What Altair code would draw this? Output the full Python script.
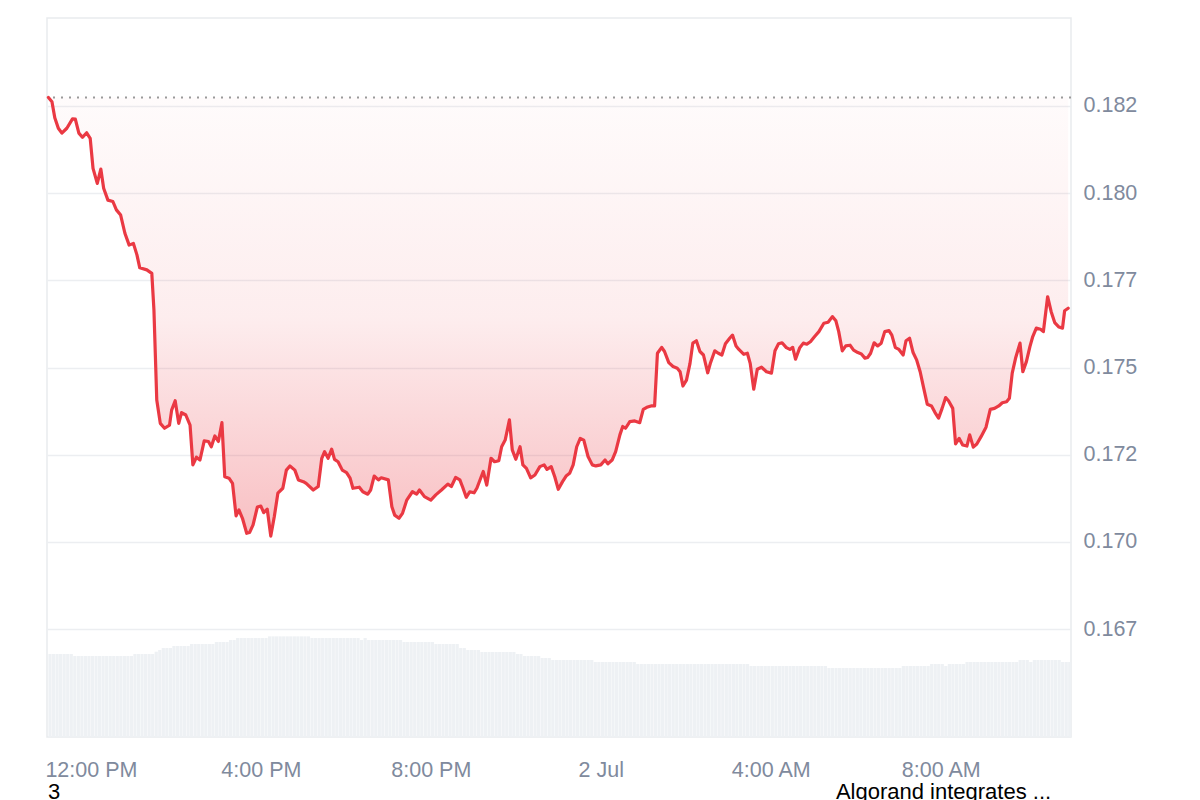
import altair as alt
import pandas as pd

# ---- price series (minutes after 11:00 AM, 1 Jul) ----
minutes = [
    0, 5, 9, 14, 19, 26, 34, 38, 43, 48, 54, 59, 63, 69, 74, 78, 84, 91, 96, 102, 108, 114, 120, 125, 129, 139, 146,
    149, 153, 158, 164, 171, 174, 179, 184, 188, 194, 200, 204, 209, 214, 220, 226, 230, 235, 240, 245, 249, 255,
    260, 265, 269, 274, 280, 284, 289, 295, 300, 304, 309, 314, 319, 324, 331, 336, 341, 348, 353, 360, 364, 374, 381,
    386, 390, 395, 400, 404, 409, 415, 421, 426, 430, 439, 444, 451, 455, 460, 466, 470, 480, 485, 489, 495, 500,
    506, 514, 520, 524, 531, 540, 547, 555, 564, 569, 575, 581, 585, 590, 595, 601, 605, 614, 619, 625, 630, 636,
    640, 645, 651, 655, 660, 666, 670, 675, 681, 687, 694,
    700, 704, 710, 715, 720, 726, 731, 736, 741, 746, 751, 756, 762, 768, 773, 780, 786, 790, 796, 801, 807, 811,
    815, 821, 828, 835, 840, 845, 851, 856, 860, 866, 870, 876, 882, 888, 892, 896, 901, 906, 910, 915, 920, 925,
    931, 935, 941, 946, 951, 956, 962, 966, 971, 975, 982, 987, 991, 996, 1001, 1007, 1014, 1021,
    1026, 1031, 1036, 1042, 1047, 1051, 1055, 1061, 1066, 1071, 1076, 1082, 1088, 1095, 1101, 1107, 1112, 1116,
    1121, 1126, 1132, 1137, 1143, 1148, 1153, 1157, 1161, 1166, 1171, 1176, 1181, 1187, 1191, 1196, 1201, 1207,
    1211, 1216, 1221, 1226, 1231, 1236, 1241, 1247, 1252, 1257, 1262, 1267, 1271, 1277, 1281, 1286, 1291, 1297,
    1301, 1306, 1311, 1317, 1324,
    1330, 1336, 1342, 1347, 1353, 1357, 1361, 1366, 1372, 1376, 1381, 1386, 1390, 1395, 1401, 1405, 1411, 1416,
    1421, 1427, 1432, 1435, 1440,
]
prices = [
    0.18274, 0.18262, 0.18216, 0.18186, 0.18172, 0.18186, 0.18213, 0.18212, 0.18172, 0.18160, 0.18173, 0.18157,
    0.18071, 0.18028, 0.18069, 0.18014, 0.17980, 0.17976, 0.17952, 0.17937, 0.17885, 0.17851, 0.17856, 0.17823,
    0.17786, 0.17780, 0.17770,
    0.17665, 0.17407, 0.17340, 0.17326, 0.17335, 0.17378, 0.17405, 0.17340, 0.17371, 0.17364, 0.17335, 0.17221,
    0.17243, 0.17235, 0.17290, 0.17288, 0.17273, 0.17304, 0.17288, 0.17342, 0.17187, 0.17183, 0.17168, 0.17075,
    0.17092, 0.17068, 0.17025, 0.17027, 0.17049, 0.17100, 0.17103, 0.17084, 0.17094, 0.17017, 0.17073, 0.17140,
    0.17154, 0.17206, 0.17218, 0.17206, 0.17178, 0.17173, 0.17168, 0.17149, 0.17159,
    0.17240, 0.17259, 0.17240, 0.17266, 0.17237, 0.17230, 0.17206, 0.17199, 0.17183, 0.17154, 0.17157, 0.17144,
    0.17137, 0.17149, 0.17189, 0.17178, 0.17184, 0.17178, 0.17101, 0.17077, 0.17068, 0.17082, 0.17120, 0.17144,
    0.17137, 0.17149, 0.17130, 0.17120, 0.17135, 0.17149, 0.17166, 0.17159, 0.17185, 0.17178, 0.17157, 0.17128,
    0.17144, 0.17141, 0.17154, 0.17202, 0.17163, 0.17240, 0.17230, 0.17233, 0.17273, 0.17292, 0.17350, 0.17264,
    0.17237, 0.17273, 0.17221, 0.17211, 0.17184, 0.17192, 0.17216,
    0.17221, 0.17208, 0.17216, 0.17187, 0.17151, 0.17173, 0.17189, 0.17197, 0.17221, 0.17273, 0.17297, 0.17292,
    0.17245, 0.17221, 0.17218, 0.17221, 0.17235, 0.17224, 0.17235, 0.17259, 0.17307, 0.17331, 0.17326, 0.17345,
    0.17347, 0.17342, 0.17380, 0.17386, 0.17390, 0.17390, 0.17541, 0.17558, 0.17546, 0.17514, 0.17503, 0.17498,
    0.17488, 0.17447, 0.17464, 0.17512, 0.17570, 0.17577, 0.17546, 0.17536, 0.17485, 0.17514, 0.17548, 0.17541,
    0.17536, 0.17568, 0.17584, 0.17593, 0.17562, 0.17552, 0.17538, 0.17541, 0.17512, 0.17438, 0.17495, 0.17501,
    0.17488, 0.17484,
    0.17548, 0.17568, 0.17571, 0.17557, 0.17552, 0.17558, 0.17524, 0.17557, 0.17570, 0.17567, 0.17574, 0.17589,
    0.17603, 0.17627, 0.17630, 0.17646, 0.17634, 0.17603, 0.17548, 0.17562, 0.17564, 0.17550, 0.17543, 0.17539,
    0.17527, 0.17529, 0.17541, 0.17571, 0.17562, 0.17570, 0.17603, 0.17606, 0.17593, 0.17557, 0.17552, 0.17536,
    0.17577, 0.17584, 0.17543, 0.17522, 0.17488, 0.17441, 0.17395, 0.17390, 0.17371, 0.17355, 0.17383, 0.17414,
    0.17405, 0.17383, 0.17281, 0.17297, 0.17278, 0.17275, 0.17307, 0.17272, 0.17281, 0.17302, 0.17329,
    0.17380, 0.17383, 0.17390, 0.17399, 0.17402, 0.17412, 0.17484, 0.17529, 0.17570, 0.17488, 0.17517, 0.17560,
    0.17589, 0.17613, 0.17610, 0.17603, 0.17703, 0.17660, 0.17629, 0.17616, 0.17613, 0.17663, 0.17670,
]

# ---- volume bars, one per 5 minutes from 11:00 AM ----
volumes = [
    92.4, 92.4, 92.4, 92.4, 92.4, 92.4, 92.4,
    90.1, 90.1, 90.1, 90.1, 90.1, 90.1, 90.1, 90.1, 90.1, 90.1, 90.1, 90.1, 90.1, 90.1, 90.1, 90.1, 90.1,
    92.4, 92.4, 92.4, 92.4, 92.4, 92.4, 94.9, 96.8, 99.0, 99.0, 99.0,
    101.3, 101.3, 101.3, 101.3, 101.3, 103.5, 103.5, 103.5, 103.5, 103.5, 103.5, 103.5,
    105.7, 105.7, 105.7, 105.7, 107.9, 107.9,
    110.2, 110.2, 110.2, 110.2, 110.2, 110.2, 110.2, 110.2, 110.2,
    112.0, 112.0, 112.0, 112.0, 112.0, 112.0, 112.0, 112.0, 112.0, 112.0, 112.0, 112.0,
    110.2, 110.2, 110.2, 110.2, 110.2, 110.2, 110.2, 110.2, 110.2, 110.2, 110.2, 110.2, 110.2, 110.2,
    107.9, 110.2,
    107.9, 107.9, 107.9, 107.9, 107.9, 107.9, 107.9, 107.9, 107.9, 107.9,
    105.7, 105.7, 105.7, 105.7, 105.7, 105.7, 105.7, 105.7, 105.7,
    103.5, 103.5, 103.5, 103.5, 103.5, 103.5, 103.5,
    99.0, 99.0, 96.8, 96.8, 96.8, 96.8,
    94.6, 94.6, 94.6, 94.6, 94.6, 94.6, 94.6, 94.6, 94.6, 94.6,
    92.4, 92.4, 90.1, 90.1, 90.1, 90.1, 90.1, 87.9, 87.9, 87.9,
    85.7, 85.7, 85.7, 85.7, 85.7, 85.7, 85.7, 85.7, 85.7, 85.7, 85.7, 85.7,
    83.5, 83.5, 83.5, 83.5, 83.5, 83.5, 83.5, 83.5, 83.5, 83.5, 83.5, 83.5,
    81.2, 81.2, 81.2, 81.2, 81.2, 81.2, 81.2, 81.2, 81.2, 81.2, 81.2, 81.2, 81.2, 81.2, 81.2, 81.2,
    81.2, 81.2, 81.2, 81.2, 81.2, 81.2, 81.2, 81.2, 81.2, 81.2, 81.2, 81.2, 81.2, 81.2, 81.2, 81.2,
    79.0, 79.0, 79.0, 79.0, 79.0, 79.0, 79.0, 79.0, 79.0, 79.0, 79.0,
    79.0, 79.0, 79.0, 79.0, 79.0, 79.0, 79.0, 79.0, 79.0, 79.0, 79.0,
    76.8, 76.8, 76.8, 76.8, 76.8, 76.8, 76.8, 76.8, 76.8, 76.8, 76.8,
    76.8, 76.8, 76.8, 76.8, 76.8, 76.8, 76.8, 76.8, 76.8, 76.8,
    79.0, 79.0, 79.0, 79.0, 79.0, 79.0, 79.0, 79.0,
    81.2, 81.2, 81.2, 81.2, 79.0, 81.2, 81.2, 81.2, 81.2, 81.2,
    83.5, 83.5, 83.5, 83.5, 83.5, 83.5, 83.5, 83.5, 83.5, 83.5, 83.5, 83.5, 83.5, 83.5, 83.5,
    85.7, 85.7, 85.7, 83.5,
    85.7, 85.7, 85.7, 85.7, 85.7, 85.7, 85.7, 85.7,
    83.5, 83.5, 83.5,
]

y_ticks = [0.1675, 0.17, 0.1725, 0.175, 0.1775, 0.18, 0.1825]
x_tick_hours = [(1, 12), (1, 16), (1, 20), (2, 0), (2, 4), (2, 8)]
event_labels = ["3", "Algorand integrates ..."]
event_minutes = [8, 1264]

start = pd.Timestamp("2024-07-01 11:00:00")
price_df = pd.DataFrame({
    "time": [start + pd.Timedelta(minutes=m) for m in minutes],
    "price": prices,
})
open_price = prices[0]
price_df["base"] = open_price

vol_df = pd.DataFrame({
    "time": [start + pd.Timedelta(minutes=5 * i) for i in range(len(volumes))],
    "volume": volumes,
})
vol_df["time_end"] = vol_df["time"] + pd.Timedelta(minutes=4.5)
vol_df["zero"] = 0.0

event_df = pd.DataFrame({
    "time": [start + pd.Timedelta(minutes=m) for m in event_minutes],
    "label": event_labels,
})

RED = "#ea3943"
LABEL = "#808a9d"
GRID = "#eceef1"

x_scale = alt.Scale(
    domain=[
        alt.DateTime(year=2024, month=7, date=1, hours=10, minutes=58),
        alt.DateTime(year=2024, month=7, date=2, hours=11, minutes=4),
    ],
    padding=0,
)
x_axis = alt.Axis(
    values=[alt.DateTime(year=2024, month=7, date=d, hours=h) for d, h in x_tick_hours],
    labelExpr="hours(datum.value) == 0 ? timeFormat(datum.value, '%-d %b') : timeFormat(datum.value, '%-I:%M %p')",
    title=None, grid=False, domain=False, ticks=False, tickSize=0, labelPadding=22,
    labelFontSize=21.5, labelColor=LABEL, labelFont="Liberation Sans", labelFlush=False,
)
x_enc = alt.X("time:T", scale=x_scale, axis=x_axis)

y_scale = alt.Scale(domain=[0.16441, 0.18502], zero=False, nice=False)
y_axis = alt.Axis(
    orient="right", values=y_ticks, title=None,
    labelExpr="format(floor(datum.value * 1000 + 0.000001) / 1000, '.3f')",
    domain=False, ticks=False, tickSize=0, labelPadding=12,
    labelFontSize=21.5, labelColor=LABEL, labelFont="Liberation Sans",
    grid=True, gridColor=GRID, gridWidth=1.5,
)

vol_layer = alt.Chart(vol_df).mark_bar(color="#eef1f4", clip=True, orient="vertical").encode(
    x=x_enc,
    x2="time_end:T",
    y=alt.Y("volume:Q", scale=alt.Scale(domain=[0, 800]), axis=None),
    y2="zero:Q",
)

area = alt.Chart(price_df).mark_area(
    interpolate="linear",
    color=alt.Gradient(
        gradient="linear",
        stops=[
            alt.GradientStop(color="rgba(234,57,67,0.02)", offset=0),
            alt.GradientStop(color="rgba(234,57,67,0.09)", offset=0.5),
            alt.GradientStop(color="rgba(234,57,67,0.32)", offset=1),
        ],
        x1=0, x2=0, y1=0, y2=1,
    ),
).encode(
    x=x_enc,
    y=alt.Y("price:Q", scale=y_scale, axis=y_axis),
    y2="base:Q",
)

rule = alt.Chart(price_df.head(1)).mark_rule(
    color="#9a9a9a", strokeDash=[2, 6], strokeWidth=2
).encode(y=alt.Y("base:Q", scale=y_scale, axis=y_axis))

line = alt.Chart(price_df).mark_line(
    color=RED, strokeWidth=3.2, strokeJoin="round", strokeCap="round"
).encode(
    x=x_enc,
    y=alt.Y("price:Q", scale=y_scale, axis=y_axis),
)

price_layers = alt.layer(area, rule, line)

events = alt.Chart(event_df).mark_text(
    font="Liberation Sans", fontSize=22, color="#000000", align="center", baseline="alphabetic"
).encode(
    x=x_enc,
    y=alt.value(781),
    text="label:N",
)

chart = alt.layer(vol_layer, price_layers, events).resolve_scale(y="independent").properties(
    width=1024,
    height=719,
    padding={"left": 39, "top": 10, "right": 121, "bottom": 70},
    autosize=alt.AutoSizeParams(type="none"),
).configure_view(stroke="#e9ebee", strokeWidth=1.5)

chart.save("out.html", embed_options={"renderer": "svg", "actions": False})
